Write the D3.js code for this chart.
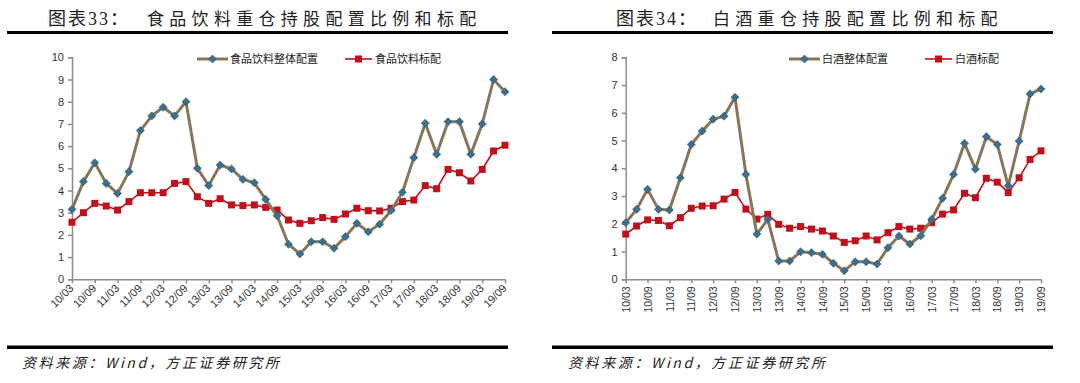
<!DOCTYPE html>
<html>
<head>
<meta charset="utf-8">
<script src="https://cdn.jsdelivr.net/npm/d3@7"></script>
<style>
  body { margin: 0; background: #fff; }
  svg { display: block; }
</style>
</head>
<body>
<div id="chart"></div>
<script>
// quarterly points 10Q1 .. 19Q3, labels every half year
const periods = ['10/03','10/06','10/09','10/12','11/03','11/06','11/09','11/12','12/03','12/06','12/09','12/12',
                 '13/03','13/06','13/09','13/12','14/03','14/06','14/09','14/12','15/03','15/06','15/09','15/12',
                 '16/03','16/06','16/09','16/12','17/03','17/06','17/09','17/12','18/03','18/06','18/09','18/12',
                 '19/03','19/06','19/09']
const tickLabels = periods.filter((d, i) => i % 2 === 0)

const foodTotal = [3.15, 4.4, 5.25, 4.32, 3.87, 4.85, 6.7, 7.36, 7.75, 7.36, 8.0, 5.0,
                   4.22, 5.15, 4.97, 4.5, 4.35, 3.6, 2.86, 1.58, 1.14, 1.69, 1.69, 1.4,
                   1.92, 2.52, 2.14, 2.48, 3.1, 3.92, 5.48, 7.03, 5.63, 7.1, 7.1, 5.63,
                   7.0, 9.0, 8.45]
const foodBench = [2.57, 3.0, 3.42, 3.3, 3.12, 3.5, 3.9, 3.9, 3.9, 4.32, 4.4, 3.72,
                   3.42, 3.63, 3.35, 3.32, 3.35, 3.24, 3.12, 2.67, 2.52, 2.64, 2.78, 2.7,
                   2.94, 3.2, 3.09, 3.08, 3.2, 3.5, 3.57, 4.22, 4.08, 4.95, 4.8, 4.43,
                   4.95, 5.78, 6.04]

const liquorTotal = [2.04, 2.52, 3.24, 2.52, 2.5, 3.66, 4.86, 5.34, 5.77, 5.88, 6.56, 3.78,
                     1.63, 2.16, 0.66, 0.66, 0.99, 0.96, 0.9, 0.58, 0.31, 0.63, 0.63, 0.55,
                     1.14, 1.56, 1.27, 1.57, 2.16, 2.92, 3.78, 4.9, 3.97, 5.14, 4.86, 3.37,
                     4.98, 6.68, 6.86]
const liquorBench = [1.63, 1.92, 2.14, 2.12, 1.93, 2.22, 2.56, 2.64, 2.65, 2.89, 3.13, 2.53,
                     2.17, 2.34, 1.98, 1.84, 1.9, 1.81, 1.74, 1.56, 1.33, 1.39, 1.56, 1.42,
                     1.68, 1.9, 1.81, 1.84, 2.04, 2.35, 2.5, 3.1, 2.94, 3.64, 3.5, 3.13,
                     3.66, 4.32, 4.63]

const charts = [
    { no: '图表33：', title: '食品饮料重仓持股配置比例和标配', left: 0,
      totalName: '食品饮料整体配置', benchName: '食品饮料标配',
      total: foodTotal, bench: foodBench, yMax: 10,
      x0: 72, x1: 505, legendX: 197, legend2X: 345, rotate: -45,
      noX: 48, titleX: 147, ruleX: 7, footX: 22 },
    { no: '图表34：', title: '白酒重仓持股配置比例和标配', left: 540,
      totalName: '白酒整体配置', benchName: '白酒标配',
      total: liquorTotal, bench: liquorBench, yMax: 8,
      x0: 85.7, x1: 501, legendX: 249, legend2X: 385, rotate: -90,
      noX: 76, titleX: 173, ruleX: 12, footX: 28 }
]

const width = 1080, height = 383
const yTop = 57.3, yBottom = 279.3
const totalColor = '#86765a', markerBlue = '#3f6e8b', benchColor = '#c0101c'
const cjk = '"Noto Sans CJK SC", "Liberation Sans", sans-serif'

const svg = d3.select('#chart').append('svg')
              .attr('width', width)
              .attr('height', height)

charts.forEach(c => {
    const panel = svg.append('g').attr('transform', `translate(${c.left}, 0)`)

    // title
    panel.append('text')
         .text(c.no)
         .attr('x', c.noX).attr('y', 25)
         .style('font-family', '"Liberation Serif", "Noto Sans CJK SC", serif')
         .style('font-size', '18px')
         .style('letter-spacing', '2px')
         .style('fill', '#222')
    panel.append('text')
         .text(c.title)
         .attr('x', c.titleX).attr('y', 25)
         .style('font-family', cjk)
         .style('font-size', '17px')
         .style('letter-spacing', '5.3px')
         .style('fill', '#222')
    panel.append('rect').attr('x', c.ruleX).attr('y', 31).attr('width', 501).attr('height', 3).attr('fill', '#000')

    // footer
    panel.append('rect').attr('x', c.ruleX).attr('y', 345.5).attr('width', 501).attr('height', 3.5).attr('fill', '#000')
    panel.append('text')
         .text('资料来源：Wind，方正证券研究所')
         .attr('x', c.footX).attr('y', 368)
         .style('font-family', cjk)
         .style('font-size', '14px')
         .style('font-style', 'italic')
         .style('letter-spacing', '2.6px')
         .style('fill', '#222')

    const xScale = d3.scalePoint().domain(periods).range([c.x0, c.x1])
    const yScale = d3.scaleLinear().domain([0, c.yMax]).range([yBottom, yTop])

    // y axis
    const yAxis = panel.append('g')
         .attr('transform', `translate(${c.x0}, 0)`)
         .call(d3.axisLeft(yScale).ticks(c.yMax).tickSize(4).tickPadding(4))
    yAxis.selectAll('text').style('font-family', '"Liberation Sans", Arial, sans-serif').style('font-size', '11px').style('fill', '#333')

    // x axis
    const xAxis = panel.append('g')
         .attr('transform', `translate(0, ${yBottom})`)
         .call(d3.axisBottom(xScale).tickValues(tickLabels).tickSize(4).tickPadding(3).tickSizeOuter(0))
    xAxis.selectAll('text')
         .style('font-family', '"Liberation Sans", Arial, sans-serif')
         .style('font-size', c.rotate === -90 ? '10.5px' : '11px')
         .style('fill', '#333')
         .attr('text-anchor', 'end')
         .attr('dy', '0.35em')
         .attr('transform', c.rotate === -90 ? 'translate(0, 3) rotate(-90)' : 'translate(2, 4) rotate(-45)')
         .attr('x', -4)
         .attr('y', 0)

    panel.selectAll('.domain, .tick line').attr('stroke', '#8c8c8c').attr('stroke-width', 1.5)

    const line = d3.line().x((d, i) => xScale(periods[i])).y(d => yScale(d))

    // benchmark (red squares)
    panel.append('path')
         .datum(c.bench)
         .attr('d', line)
         .attr('fill', 'none')
         .attr('stroke', benchColor)
         .attr('stroke-width', 1.6)
    panel.selectAll('.bench-pt').data(c.bench).enter().append('rect')
         .attr('x', (d, i) => xScale(periods[i]) - 3.5)
         .attr('y', d => yScale(d) - 3.5)
         .attr('width', 7).attr('height', 7)
         .attr('fill', benchColor)

    // total allocation (khaki line, blue diamonds)
    panel.append('path')
         .datum(c.total)
         .attr('d', line)
         .attr('fill', 'none')
         .attr('stroke', totalColor)
         .attr('stroke-width', 3)
         .attr('stroke-linejoin', 'round')
    const diamond = d3.symbol().type(d3.symbolDiamond2).size(42)
    panel.selectAll('.total-pt').data(c.total).enter().append('path')
         .attr('d', diamond)
         .attr('transform', (d, i) => `translate(${xScale(periods[i])}, ${yScale(d)})`)
         .attr('fill', markerBlue)
         .attr('stroke', '#2f5a72')
         .attr('stroke-width', 0.6)

    // legend
    const ly = 59
    const lg = panel.append('g')
    lg.append('line').attr('x1', c.legendX).attr('x2', c.legendX + 31).attr('y1', ly).attr('y2', ly)
      .attr('stroke', totalColor).attr('stroke-width', 3)
    lg.append('path').attr('d', diamond).attr('transform', `translate(${c.legendX + 15.5}, ${ly})`)
      .attr('fill', markerBlue).attr('stroke', '#2f5a72').attr('stroke-width', 0.6)
    lg.append('text').text(c.totalName).attr('x', c.legendX + 33).attr('y', ly + 4)
      .style('font-family', cjk).style('font-size', '11px').style('fill', '#222')
    lg.append('line').attr('x1', c.legend2X).attr('x2', c.legend2X + 27).attr('y1', ly).attr('y2', ly)
      .attr('stroke', benchColor).attr('stroke-width', 1.6)
    lg.append('rect').attr('x', c.legend2X + 10).attr('y', ly - 3.5).attr('width', 7).attr('height', 7)
      .attr('fill', benchColor)
    lg.append('text').text(c.benchName).attr('x', c.legend2X + 30).attr('y', ly + 4)
      .style('font-family', cjk).style('font-size', '11px').style('fill', '#222')
})
</script>
</body>
</html>
